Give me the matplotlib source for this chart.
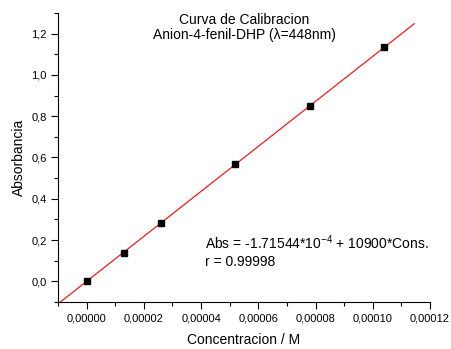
import numpy as np
import matplotlib
matplotlib.use('Agg')
import matplotlib.pyplot as plt
from matplotlib.ticker import MultipleLocator, FuncFormatter

plt.rcParams['font.family'] = ['Liberation Sans', 'DejaVu Sans']
plt.rcParams['mathtext.fontset'] = 'custom'
plt.rcParams['mathtext.rm'] = 'Liberation Sans'

conc = [0.0, 1.3e-5, 2.6e-5, 5.2e-5, 7.8e-5, 1.04e-4]
absorb = [0.0, 0.138, 0.284, 0.570, 0.848, 1.133]
intercept = -1.71544e-4
slope = 10900
fit_range = [-1.0e-5, 1.145e-4]

fig = plt.figure(figsize=(4.51, 3.49), dpi=100)
ax = fig.add_axes([0.1286, 0.1347, 0.8248, 0.8281])

xf = np.array(fit_range)
ax.plot(xf, intercept + slope * xf, color='red', lw=0.8)
ax.plot(conc, absorb, 's', color='black', ms=4.5)

ax.set_xlim(-1.0e-5, 1.2e-4)
ax.set_ylim(-0.1, 1.3)
ax.spines['top'].set_visible(False)
ax.spines['right'].set_visible(False)
ax.xaxis.set_major_locator(MultipleLocator(2e-5))
ax.xaxis.set_minor_locator(MultipleLocator(1e-5))
ax.yaxis.set_major_locator(MultipleLocator(0.2))
ax.yaxis.set_minor_locator(MultipleLocator(0.1))
ax.xaxis.set_major_formatter(FuncFormatter(lambda v, p: ('%.5f' % v).replace('.', ',')))
ax.yaxis.set_major_formatter(FuncFormatter(lambda v, p: ('%.1f' % v).replace('.', ',')))
ax.tick_params(which='major', length=5, width=0.8, labelsize=8, direction='out', pad=3)
ax.tick_params(which='minor', length=3, width=0.8, direction='out')

ax.set_xlabel('Concentracion / M', fontsize=10, labelpad=7)
ax.set_ylabel('Absorbancia', fontsize=10, labelpad=4)

ax.text(0.5, 1.0, 'Curva de Calibracion', transform=ax.transAxes, ha='center', va='top', fontsize=10)
ax.text(0.5, 0.948, 'Anion-4-fenil-DHP (λ=448nm)', transform=ax.transAxes, ha='center', va='top', fontsize=10)

ax.text(0.395, 0.205, 'Abs = -1.71544*10$^{\\mathregular{-4}}$ + 10900*Cons.', transform=ax.transAxes,
        ha='left', va='center', fontsize=10)
ax.text(0.395, 0.14, 'r = 0.99998', transform=ax.transAxes, ha='left', va='center', fontsize=10)

fig.savefig('out.png', dpi=100)
